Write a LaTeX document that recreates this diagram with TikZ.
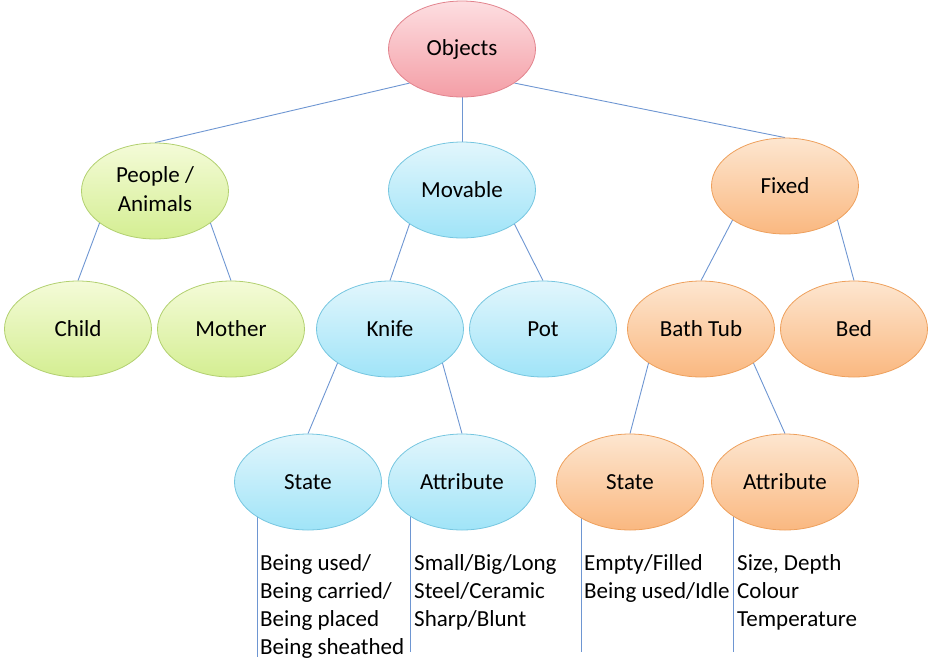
\documentclass[tikz,border=0pt]{standalone}
\usepackage{fontspec}
\setmainfont{Carlito}
\usetikzlibrary{shapes.geometric,backgrounds}
\definecolor{linkblue}{RGB}{110,150,210}
\definecolor{redtop}{RGB}{253,222,225}
\definecolor{redbot}{RGB}{244,158,166}
\definecolor{redline}{RGB}{226,132,142}
\definecolor{greentop}{RGB}{244,251,216}
\definecolor{greenbot}{RGB}{212,238,146}
\definecolor{greenline}{RGB}{178,208,112}
\definecolor{bluetop}{RGB}{226,246,252}
\definecolor{bluebot}{RGB}{160,228,248}
\definecolor{blueline}{RGB}{118,198,224}
\definecolor{orangetop}{RGB}{253,230,208}
\definecolor{orangebot}{RGB}{250,184,128}
\definecolor{orangeline}{RGB}{238,160,92}
\begin{document}
\begin{tikzpicture}[x=1pt,y=-1pt,
  bub/.style={ellipse, minimum width=147pt, minimum height=96pt, inner sep=0pt,
    line width=0.8pt, align=center, font=\fontsize{23}{28}\selectfont, text=black},
  redbub/.style={draw=redline, top color=redtop, bottom color=redbot},
  greenbub/.style={draw=greenline, top color=greentop, bottom color=greenbot},
  bluebub/.style={draw=blueline, top color=bluetop, bottom color=bluebot},
  orangebub/.style={draw=orangeline, top color=orangetop, bottom color=orangebot},
  conn/.style={draw=linkblue, line width=0.9pt},
  note/.style={anchor=base west, align=left, inner sep=0pt,
    font=\fontsize{23}{28}\selectfont, text=black}]
\useasboundingbox (0,0) rectangle (929,662);

\node[bub,redbub] (obj) at (462,49) {\raisebox{-2pt}{Objects}};
\node[bub,greenbub] (peo) at (155,191) {\raisebox{4pt}{\shortstack{People /\\[6pt]Animals}}};
\node[bub,bluebub] (mov) at (462,190) {Movable};
\node[bub,orangebub] (fix) at (785,186) {Fixed};
\node[bub,greenbub] (chi) at (78,329) {Child};
\node[bub,greenbub] (mot) at (231,329) {Mother};
\node[bub,bluebub] (kni) at (390,329) {Knife};
\node[bub,bluebub] (pot) at (543,329) {Pot};
\node[bub,orangebub] (bat) at (701,329) {Bath Tub};
\node[bub,orangebub] (bed) at (854,329) {Bed};
\node[bub,bluebub] (ks) at (308,482) {State};
\node[bub,bluebub] (ka) at (462,482) {Attribute};
\node[bub,orangebub] (bs) at (630,482) {State};
\node[bub,orangebub] (ba) at (785,482) {Attribute};

% base anchor of a multi-line note is its last line's baseline
\node[note] (tks) at (260,654) {Being used/\\Being carried/\\Being placed\\Being sheathed};
\node[note] (tka) at (414,626) {Small/Big/Long\\Steel/Ceramic\\Sharp/Blunt};
\node[note] (tbs) at (584,598) {Empty/Filled\\Being used/Idle};
\node[note] (tba) at (737,626) {Size, Depth\\Colour\\Temperature};

\coordinate (eks) at (257,657);
\coordinate (eka) at (410,652);
\coordinate (ebs) at (581,652);
\coordinate (eba) at (733,652);

\begin{scope}[on background layer]
\draw[conn] (obj.213) -- (peo.north);
\draw[conn] (obj.south) -- (mov.north);
\draw[conn] (obj.327) -- (fix.north);
\draw[conn] (peo.210) -- (chi.north);
\draw[conn] (peo.330) -- (mot.north);
\draw[conn] (mov.213) -- (kni.north);
\draw[conn] (mov.327) -- (pot.north);
\draw[conn] (fix.213) -- (bat.north);
\draw[conn] (fix.327) -- (bed.north);
\draw[conn] (kni.213) -- (ks.north);
\draw[conn] (kni.327) -- (ka.north);
\draw[conn] (bat.213) -- (bs.north);
\draw[conn] (bat.327) -- (ba.north);
\draw[conn] (eks |- ks.center) -- (eks);
\draw[conn] (eka |- ka.center) -- (eka);
\draw[conn] (ebs |- bs.center) -- (ebs);
\draw[conn] (eba |- ba.center) -- (eba);
\end{scope}
\end{tikzpicture}
\end{document}
